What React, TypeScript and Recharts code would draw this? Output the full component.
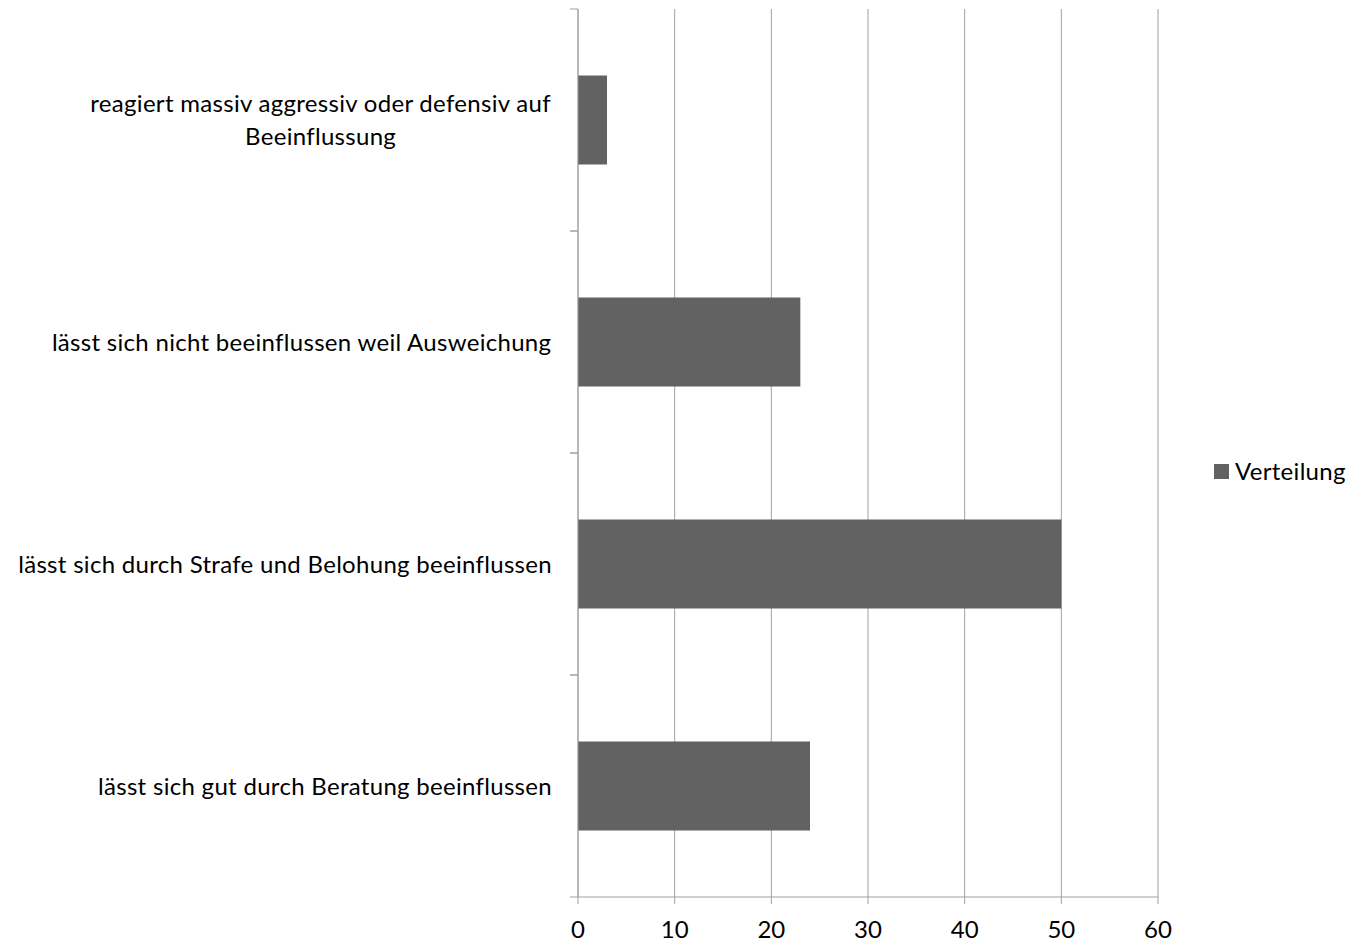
import React from 'react';
import { BarChart, Bar, XAxis, YAxis, CartesianGrid, Legend } from 'recharts';

const categories = [
  'reagiert massiv aggressiv oder defensiv auf\nBeeinflussung',
  'lässt sich nicht beeinflussen weil Ausweichung',
  'lässt sich durch Strafe und Belohung beeinflussen',
  'lässt sich gut durch Beratung beeinflussen',
];
const values = [3, 23, 50, 24];
const seriesName = 'Verteilung';
const xTicks = [0, 10, 20, 30, 40, 50, 60];

const data = categories.map((c, i) => ({ category: c, value: values[i] }));

const FONT = 'Lato, "Open Sans", sans-serif';
const FS = 24;
const LS = 0.3;
const LINE_H = 33;
const TICK_GAP = 26;
const BAR_COLOR = '#626262';
const LINE_COLOR = '#a0a0a0';

let ctx: CanvasRenderingContext2D | null = null;
function measure(text: string): number {
  if (!ctx) ctx = document.createElement('canvas').getContext('2d');
  if (!ctx) return text.length * FS * 0.5;
  ctx.font = `${FS}px Lato`;
  return ctx.measureText(text).width + text.length * LS;
}

function CategoryTick(props: any) {
  const { x, y, payload } = props;
  const lines = String(payload.value).split('\n');
  const maxW = Math.max(...lines.map((l) => measure(l)));
  const cx = x - maxW / 2;
  const top = y - ((lines.length - 1) * LINE_H) / 2;
  const half = payload.offset || 0;
  const axisX = x + TICK_GAP;
  return (
    <g>
      <text textAnchor="middle" fontFamily={FONT} fontSize={FS} fill="#000" letterSpacing={LS}>
        {lines.map((l, i) => (
          <tspan key={i} x={cx} y={top + i * LINE_H} dy="0.355em">
            {l}
          </tspan>
        ))}
      </text>
      {half ? (
        <>
          <line x1={axisX - 8} x2={axisX} y1={y - half} y2={y - half} stroke={LINE_COLOR} strokeWidth={1} />
          <line x1={axisX - 8} x2={axisX} y1={y + half} y2={y + half} stroke={LINE_COLOR} strokeWidth={1} />
        </>
      ) : null}
    </g>
  );
}

function LegendContent(props: any) {
  const payload = props.payload || [];
  return (
    <div style={{ fontFamily: FONT, fontSize: FS, color: '#000', letterSpacing: LS }}>
      {payload.map((p: any, i: number) => (
        <div key={i} style={{ display: 'flex', alignItems: 'center', lineHeight: '28px' }}>
          <span style={{ display: 'inline-block', width: 15, height: 15, background: p.color, marginRight: 6 }} />
          <span>{p.value}</span>
        </div>
      ))}
    </div>
  );
}

export default function App() {
  return (
    <div style={{ position: 'absolute', left: 0, top: 0, background: '#fff' }}>
      <BarChart
        width={1362}
        height={943}
        data={data}
        layout="vertical"
        margin={{ top: 9, right: 204, left: 0, bottom: 0 }}
        barCategoryGap="30%"
      >
        <CartesianGrid horizontal={false} vertical={true} stroke={LINE_COLOR} strokeWidth={1} />
        <XAxis
          type="number"
          domain={[0, 60]}
          ticks={xTicks}
          interval={0}
          height={46}
          axisLine={{ stroke: LINE_COLOR }}
          tickLine={{ stroke: LINE_COLOR }}
          tickSize={7}
          tickMargin={17}
          tick={{ fill: '#000', fontFamily: FONT, fontSize: FS }}
        />
        <YAxis
          type="category"
          dataKey="category"
          width={578}
          interval={0}
          axisLine={{ stroke: LINE_COLOR }}
          tickLine={false}
          tickSize={0}
          tickMargin={TICK_GAP}
          tick={<CategoryTick />}
        />
        <Legend
          layout="horizontal"
          verticalAlign="middle"
          align="center"
          content={<LegendContent />}
          wrapperStyle={{ left: 1214, top: 457, width: 'auto' }}
        />
        <Bar dataKey="value" name={seriesName} fill={BAR_COLOR} isAnimationActive={false} />
      </BarChart>
    </div>
  );
}
